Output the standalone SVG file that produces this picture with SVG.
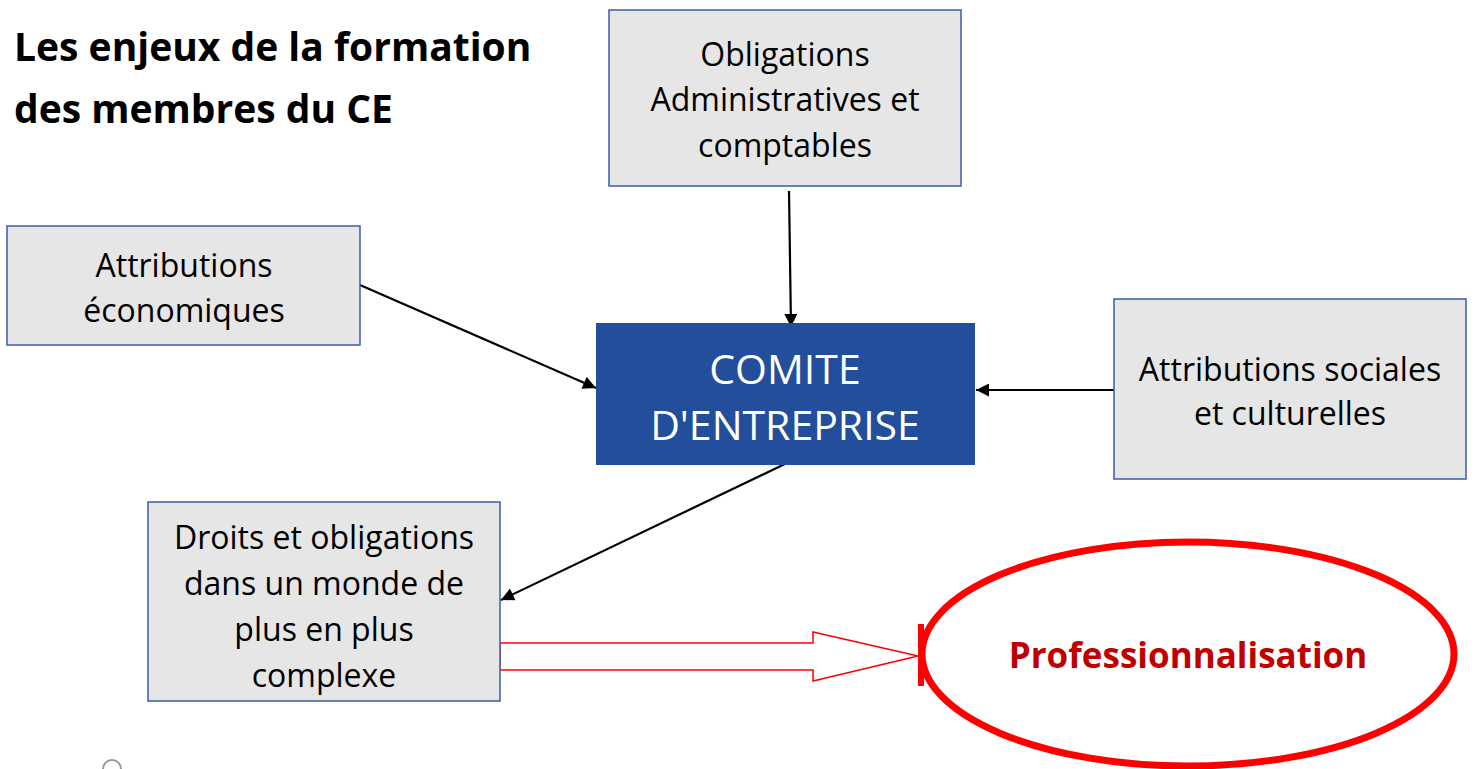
<svg xmlns="http://www.w3.org/2000/svg" width="1475" height="769" viewBox="0 0 1475 769">
<style>
.box{fill:#e6e6e6;stroke:#3a5ea8;stroke-width:1.5}
.t{font-family:"Open Sans","Noto Sans",sans-serif;font-size:32px;fill:#000;text-anchor:middle}
.w{font-family:"Open Sans","Noto Sans",sans-serif;font-size:41px;fill:#fff;text-anchor:middle}
.title{font-family:"Open Sans","Noto Sans",sans-serif;font-size:39px;font-weight:bold;fill:#000}
.con{stroke:#000;stroke-width:2.2;fill:none;marker-end:url(#ah)}
</style>
<defs>
<marker id="ah" viewBox="0 0 10 10" refX="10" refY="5" markerWidth="14" markerHeight="13" markerUnits="userSpaceOnUse" orient="auto">
<path d="M0,0 L10,5 L0,10 z" fill="#000"/>
</marker>
</defs>
<rect width="1475" height="769" fill="#fff"/>
<g id="title">
<text class="title" x="14" y="61">Les enjeux de la formation</text>
<text class="title" x="14" y="123">des membres du CE</text>
</g>
<g id="connectors">
<line class="con" x1="789" y1="191" x2="791" y2="327"/>
<line class="con" x1="360" y1="285" x2="596" y2="388"/>
<line class="con" x1="1115" y1="390" x2="976" y2="390"/>
<line class="con" x1="789" y1="462" x2="501" y2="600"/>
<polygon points="500,643 813,643 813,632 918,656 813,681 813,670 500,670" fill="#fff" stroke="#ff0000" stroke-width="1.5"/>
</g>
<g id="n-obligations">
<rect class="box" x="609" y="10" width="352" height="176"/>
<text class="t" x="785" y="66">Obligations</text>
<text class="t" x="785" y="111">Administratives et</text>
<text class="t" x="785" y="157">comptables</text>
</g>
<g id="n-economiques">
<rect class="box" x="7" y="226" width="353" height="119"/>
<text class="t" x="184" y="277">Attributions</text>
<text class="t" x="184" y="322">économiques</text>
</g>
<g id="n-sociales">
<rect class="box" x="1114" y="299" width="352" height="180"/>
<text class="t" x="1290" y="381">Attributions sociales</text>
<text class="t" x="1290" y="425">et culturelles</text>
</g>
<g id="n-droits">
<rect class="box" x="148" y="502" width="352" height="199"/>
<text class="t" x="324" y="549">Droits et obligations</text>
<text class="t" x="324" y="595">dans un monde de</text>
<text class="t" x="324" y="641">plus en plus</text>
<text class="t" x="324" y="687">complexe</text>
</g>
<g id="n-comite">
<rect x="596" y="323" width="379" height="142" fill="#224e9c"/>
<text class="w" x="785" y="384">COMITE</text>
<text class="w" x="785" y="440">D'ENTREPRISE</text>
</g>
<g id="n-professionnalisation">
<ellipse cx="1188" cy="654" rx="266" ry="112" fill="#fff" stroke="#ff0000" stroke-width="7"/>
<rect x="918" y="624" width="6" height="62" fill="#ff0000"/>
<text x="1188" y="668" font-family="Open Sans, Noto Sans, sans-serif" font-size="35" font-weight="bold" fill="#c00000" text-anchor="middle">Professionnalisation</text>
</g>
<path d="M103,769 A9,9 0 0 1 121,769" fill="none" stroke="#999" stroke-width="2"/>
</svg>
